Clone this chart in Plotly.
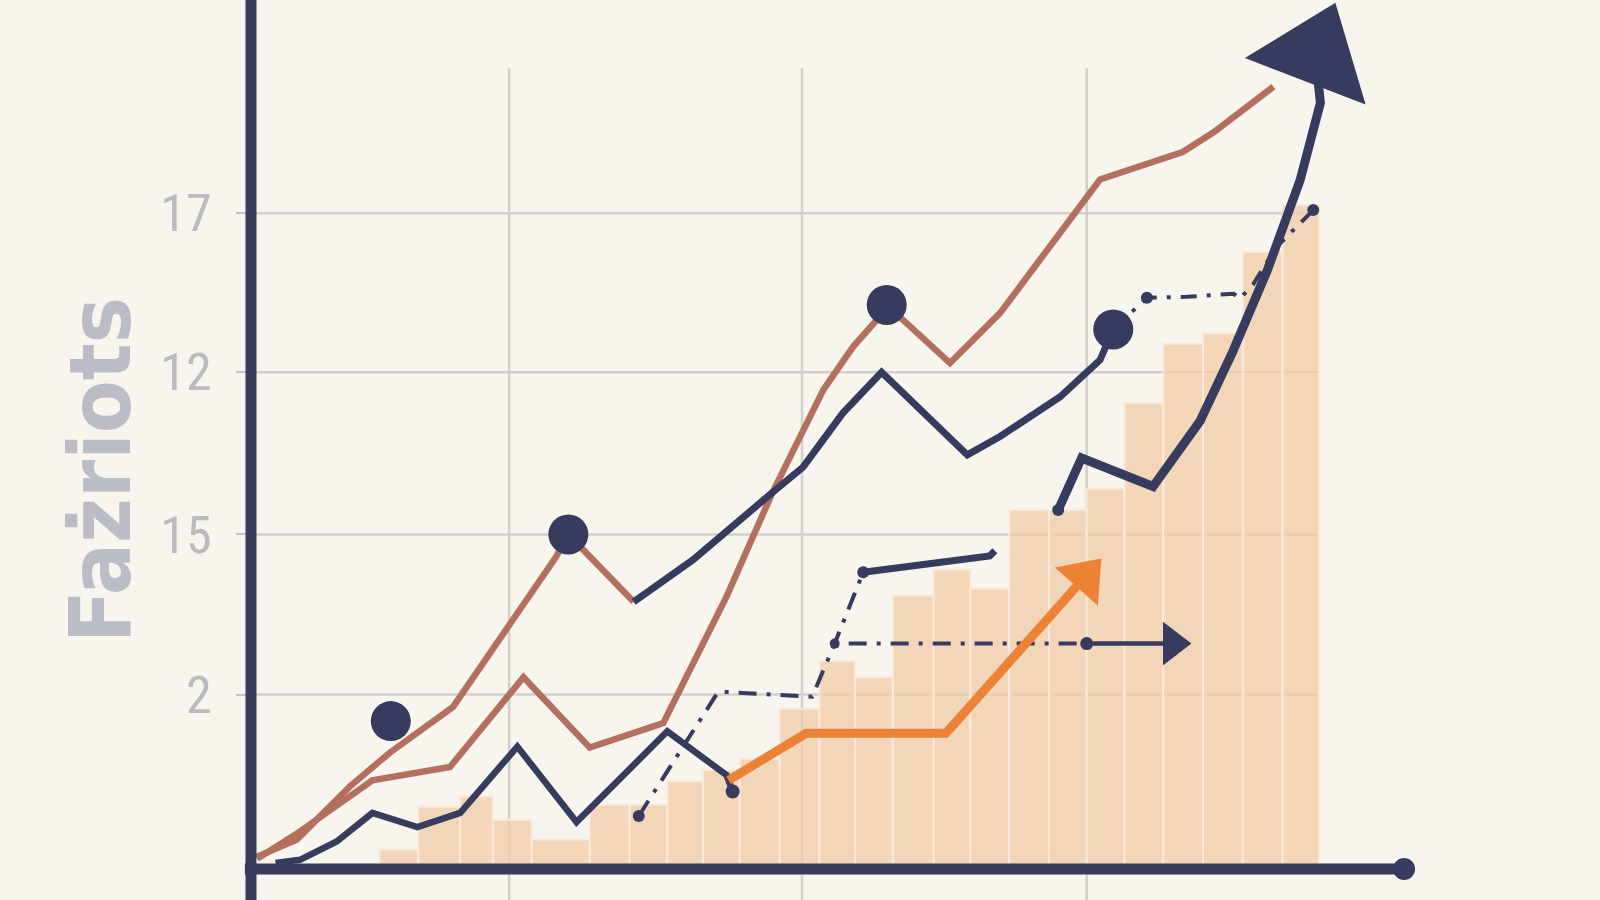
import math
import plotly.graph_objects as go

# ---------------- data (chart units) ----------------
X_RANGE = [0, 132.2]
Y_RANGE = [0, 85.2]

y_tick_vals = [17.1, 32.8, 48.7, 64.3]
y_tick_text = ["2", "15", "12", "17"]
x_grid_vals = [25.3, 54.0, 81.9]
y_grid_end = 104.7
x_grid_top = 78.5
x_axis_end = 113.0
y_axis_title = "Fażriots"

bar_edges = [12.6, 16.4, 20.5, 23.7, 27.5, 33.2, 37.1, 40.8, 44.3, 47.9, 51.8, 55.7,
             59.2, 62.9, 66.9, 70.5, 74.3, 78.2, 81.9, 85.6, 89.4, 93.3, 97.2, 101.1, 104.7]
bar_heights = [1.9, 6.1, 7.1, 4.8, 2.9, 6.3, 6.3, 8.6, 9.7, 10.8, 15.7, 20.4,
               18.8, 26.8, 29.4, 27.5, 35.2, 35.2, 37.3, 45.7, 51.5, 52.5, 60.5, 65.1]

brown_a_x = [0.6, 4.5, 9.7, 13.6, 19.8, 26.6, 29.9, 31.1, 37.5]
brown_a_y = [1.2, 2.9, 8.1, 11.4, 15.9, 25.7, 30.6, 32.8, 26.2]

brown_b_x = [0.6, 4.4, 11.9, 19.5, 26.7, 33.2, 40.4, 46.6, 51.1, 56.1, 59.0, 61.3, 62.3,
             68.5, 73.4, 83.2, 91.3, 94.3, 100.2]
brown_b_y = [1.0, 3.4, 8.7, 10.0, 18.8, 11.9, 14.3, 26.7, 36.9, 47.0, 51.2, 53.8, 55.3,
             49.6, 54.5, 67.6, 70.3, 72.2, 76.7]

navy_low_x = [2.4, 4.8, 8.4, 11.9, 16.3, 20.5, 26.1, 31.9, 40.8, 46.6, 47.2]
navy_low_y = [0.6, 0.9, 2.7, 5.5, 4.1, 5.5, 12.0, 4.6, 13.5, 9.2, 7.6]

navy_mid_x = [37.5, 43.3, 51.2, 54.1, 58.0, 61.8, 70.2, 73.4, 79.3, 83.2, 84.5]
navy_mid_y = [26.2, 30.3, 37.0, 39.4, 44.7, 48.7, 40.6, 42.4, 46.3, 49.9, 52.9]

navy_trail_x = [84.5, 87.8, 91.7, 96.3, 96.9, 98.2, 100.5, 104.1]
navy_trail_y = [52.9, 56.0, 56.1, 56.4, 55.9, 57.3, 61.0, 64.6]

step_x = [38.0, 45.8, 51.2, 55.0, 57.2, 60.0]
step_y = [5.2, 17.4, 17.1, 16.9, 22.1, 29.1]

shelf_x = [60.0, 72.4, 72.9]
shelf_y = [29.1, 30.7, 31.2]

level_x = [57.2, 81.9]
level_y = [22.1, 22.1]
level_arrow_x = [81.9, 90.3]
level_arrow_y = [22.1, 22.1]

orange_x = [46.8, 54.4, 68.1, 81.7]
orange_y = [8.7, 13.3, 13.3, 28.6]

rise_x = [79.1, 81.4, 88.4, 93.0, 96.2, 99.6, 102.8, 104.8, 104.3]
rise_y = [35.2, 40.3, 37.5, 43.9, 50.7, 58.7, 67.5, 75.1, 79.8]

hl_x = [13.7, 31.1, 62.3, 84.5]
hl_y = [14.5, 32.8, 55.3, 52.9]

# ---------------- styles ----------------
BG = "#F8F5EE"
NAVY = "#373B5E"
BROWN = "#B4705F"
ORANGE = "#EC8236"
GRID = "#D2D0CC"
GREY_TXT = "#BABBBF"

W, H = 1600, 900
ML, MB = 251, 31


def px(v):
    return (v - X_RANGE[0]) / (X_RANGE[1] - X_RANGE[0])


def py(v):
    return (v - Y_RANGE[0]) / (Y_RANGE[1] - Y_RANGE[0])


def heading(xs, ys):
    # clockwise angle from "up" of the last segment, in screen space
    sx = (W - ML) / (X_RANGE[1] - X_RANGE[0])
    sy = (H - MB) / (Y_RANGE[1] - Y_RANGE[0])
    dx = (xs[-1] - xs[-2]) * sx
    dy = (ys[-1] - ys[-2]) * sy
    return math.degrees(math.atan2(dx, dy))


fig = go.Figure()

bar_x = [(a + b) / 2 for a, b in zip(bar_edges[:-1], bar_edges[1:])]
bar_w = [b - a for a, b in zip(bar_edges[:-1], bar_edges[1:])]
fig.add_trace(go.Bar(x=bar_x, y=bar_heights, width=bar_w,
                     marker=dict(color="rgba(241,203,166,0.75)",
                                 line=dict(color="#F9EADB", width=2)),
                     hoverinfo="skip"))


def line(x, y, color, width, dash="solid"):
    fig.add_trace(go.Scatter(x=x, y=y, mode="lines", cliponaxis=False,
                             line=dict(color=color, width=width, dash=dash),
                             hoverinfo="skip"))


def dots(x, y, size, color, angle=0, symbol="circle"):
    fig.add_trace(go.Scatter(x=x, y=y, mode="markers", cliponaxis=False, opacity=1,
                             marker=dict(symbol=symbol, size=size, color=color,
                                         angle=angle, opacity=1,
                                         line=dict(width=0, color=color)),
                             hoverinfo="skip"))


line(brown_b_x, brown_b_y, BROWN, 6.5)
line(brown_a_x, brown_a_y, BROWN, 6.5)
line(navy_low_x, navy_low_y, NAVY, 6.5)
line(navy_mid_x, navy_mid_y, NAVY, 7)
line(navy_trail_x, navy_trail_y, NAVY, 4, dash="16px,10px,4px,10px")
line(step_x, step_y, NAVY, 4, dash="18px,10px,4px,10px")
line(shelf_x, shelf_y, NAVY, 7)
line(level_x, level_y, NAVY, 4, dash="4px,10px,18px,10px")
line(level_arrow_x, level_arrow_y, NAVY, 4.5)

# orange arrow
line(orange_x, orange_y, ORANGE, 9)
dots([orange_x[-1]], [orange_y[-1]], 50, ORANGE, angle=heading(orange_x, orange_y),
     symbol="triangle-up")

# horizontal arrow head
dots([level_arrow_x[-1]], [level_arrow_y[-1]], 38, NAVY, symbol="triangle-right")

# big rising arrow
line(rise_x, rise_y, NAVY, 9)
dots([rise_x[-1]], [rise_y[-1]], 112, NAVY, angle=21, symbol="triangle-up")

# highlight dots
dots(hl_x, hl_y, 40, NAVY)

small_x = [step_x[0], navy_low_x[-1], step_x[4], step_x[5], level_x[-1], rise_x[0],
           navy_trail_x[1], navy_trail_x[-1]]
small_y = [step_y[0], navy_low_y[-1], step_y[4], step_y[5], level_y[-1], rise_y[0],
           navy_trail_y[1], navy_trail_y[-1]]
dots(small_x, small_y, [12, 14, 10, 12, 13, 12, 12, 12], NAVY)

# x-axis end dot
dots([x_axis_end], [0], 22, NAVY)

shapes = []
for v in y_tick_vals:
    shapes.append(dict(type="line", xref="paper", yref="paper", x0=px(0), x1=px(y_grid_end),
                       y0=py(v), y1=py(v), line=dict(color=GRID, width=2.5), layer="below"))
for v in x_grid_vals:
    shapes.append(dict(type="line", xref="paper", yref="paper", x0=px(v), x1=px(v),
                       y0=-MB / (H - MB), y1=py(x_grid_top),
                       line=dict(color=GRID, width=2.5), layer="below"))
shapes.append(dict(type="line", xref="paper", yref="paper", x0=0, x1=0,
                   y0=-MB / (H - MB), y1=1.0, line=dict(color=NAVY, width=11)))
shapes.append(dict(type="line", xref="paper", yref="paper", x0=px(-0.6), x1=px(x_axis_end),
                   y0=0, y1=0, line=dict(color=NAVY, width=11)))

fig.update_layout(
    width=W, height=H,
    margin=dict(l=ML, r=0, t=0, b=MB, pad=0),
    paper_bgcolor=BG, plot_bgcolor=BG,
    showlegend=False,
    barmode="overlay",
    shapes=shapes,
    xaxis=dict(range=X_RANGE, showgrid=False, zeroline=False, showticklabels=False,
               showline=False, ticks=""),
    yaxis=dict(range=Y_RANGE, showgrid=False, zeroline=False, showline=False,
               tickmode="array", tickvals=y_tick_vals, ticktext=y_tick_text,
               ticks="outside", ticklen=14, tickwidth=2, tickcolor="#C4C4C4",
               ticklabelstandoff=14,
               tickfont=dict(family="Liberation Sans Narrow, Roboto Condensed, DejaVu Sans Condensed, sans-serif",
                             size=52, color=GREY_TXT)),
    annotations=[dict(text=y_axis_title, textangle=-90, showarrow=False,
                      xref="paper", yref="paper",
                      x=(100 - ML) / (W - ML), y=(H - MB - 470) / (H - MB),
                      xanchor="center", yanchor="middle",
                      font=dict(family="DejaVu Sans Condensed, DejaVu Sans, sans-serif",
                                size=86, color="#BBBDC6", weight="bold"))],
)

fig.write_html("out.html",
               config={"displayModeBar": False},
               post_script="document.body.style.margin='0';document.body.style.background='#F8F5EE';")
